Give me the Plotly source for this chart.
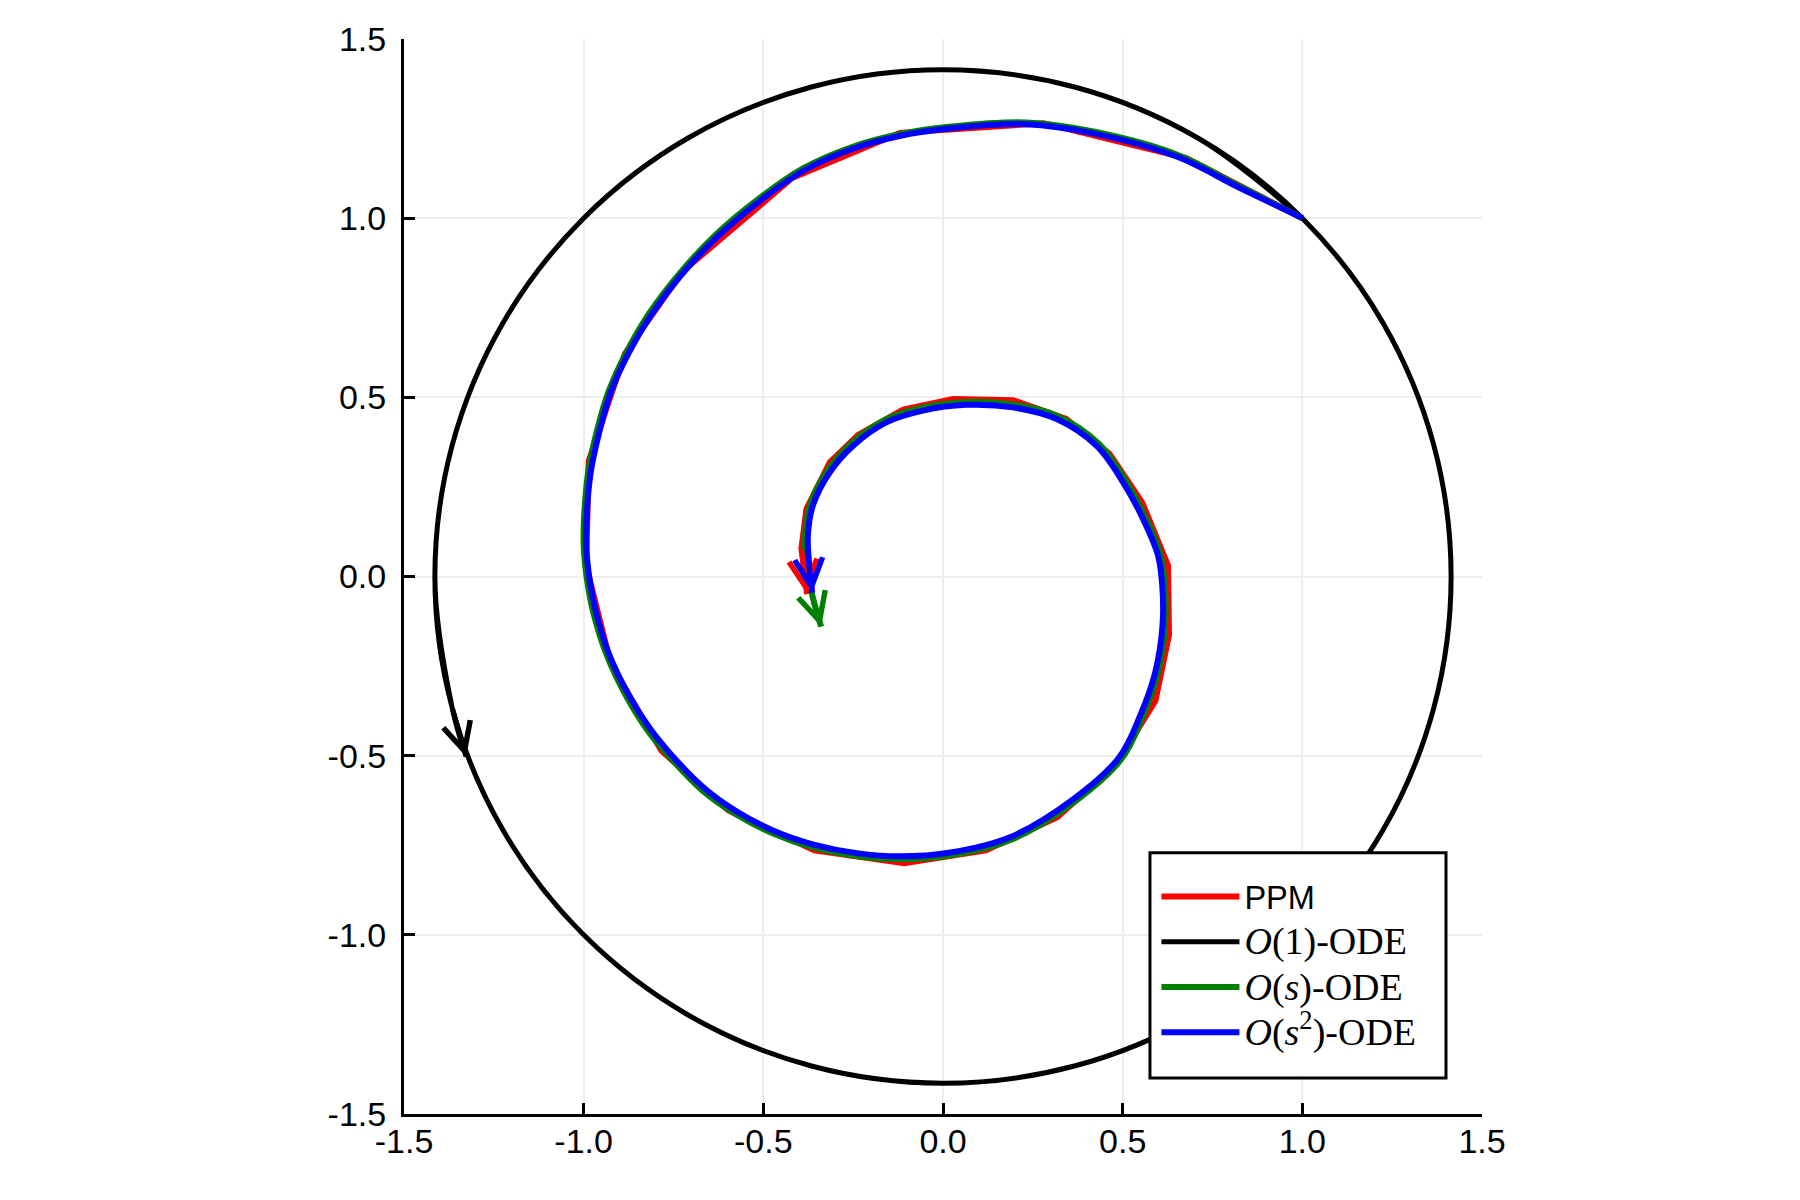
import plotly.graph_objects as go

# axis ticks
tick_vals = [-1.5, -1.0, -0.5, 0.0, 0.5, 1.0, 1.5]
tick_text = ["-1.5", "-1.0", "-0.5", "0.0", "0.5", "1.0", "1.5"]

# PPM iterates (red polygon)
ppm_x = [1.000, 0.677, 0.280, -0.120, -0.420, -0.725, -0.885, -0.986, -0.993, -0.925,
         -0.784, -0.597, -0.358, -0.108, 0.119, 0.318, 0.483, 0.591, 0.629, 0.626,
         0.555, 0.464, 0.343, 0.195, 0.028, -0.111, -0.236, -0.315, -0.380, -0.394,
         -0.378]
ppm_y = [1.000, 1.168, 1.265, 1.238, 1.112, 0.851, 0.622, 0.322, 0.030, -0.242,
         -0.486, -0.653, -0.764, -0.800, -0.764, -0.672, -0.523, -0.347, -0.163, 0.032,
         0.205, 0.342, 0.440, 0.492, 0.495, 0.466, 0.395, 0.319, 0.189, 0.078,
         -0.049]

# O(1)-ODE (circle of radius ~1.414, run past one full turn)
o1_x = [1.000, 0.707, 0.366, 0.000, -0.366, -0.707, -1.000, -1.225, -1.366, -1.414,
        -1.366, -1.225, -1.000, -0.707, -0.366, 0.000, 0.366, 0.707, 1.000, 1.225,
        1.366, 1.414, 1.366, 1.225, 1.000, 0.707, 0.366, 0.000, -0.366, -0.707,
        -1.000, -1.225, -1.366, -1.414, -1.366, -1.327]
o1_y = [1.000, 1.225, 1.366, 1.414, 1.366, 1.225, 1.000, 0.707, 0.366, 0.000,
        -0.366, -0.707, -1.000, -1.225, -1.366, -1.414, -1.366, -1.225, -1.000, -0.707,
        -0.366, 0.000, 0.366, 0.707, 1.000, 1.225, 1.366, 1.414, 1.366, 1.225,
        1.000, 0.707, 0.366, 0.000, -0.366, -0.503]

# O(s)-ODE
os_x = [1.000, 0.826, 0.652, 0.422, 0.232, 0.017, -0.119, -0.255, -0.391, -0.518,
        -0.633, -0.733, -0.818, -0.883, -0.930, -0.963, -0.987, -0.998, -1.000, -0.991,
        -0.973, -0.936, -0.881, -0.821, -0.750, -0.670, -0.579, -0.473, -0.362, -0.241,
        -0.119, 0.018, 0.191, 0.363, 0.496, 0.555, 0.597, 0.618, 0.617, 0.605,
        0.565, 0.509, 0.432, 0.318, 0.196, 0.065, -0.058, -0.162, -0.256, -0.322,
        -0.370, -0.384, -0.380, -0.362, -0.339]
os_y = [1.000, 1.089, 1.177, 1.241, 1.267, 1.255, 1.235, 1.198, 1.138, 1.050,
        0.953, 0.846, 0.734, 0.622, 0.518, 0.407, 0.294, 0.181, 0.087, -0.007,
        -0.101, -0.219, -0.335, -0.431, -0.516, -0.597, -0.662, -0.717, -0.756, -0.780,
        -0.789, -0.779, -0.734, -0.631, -0.510, -0.394, -0.273, -0.136, -0.022, 0.062,
        0.162, 0.266, 0.372, 0.448, 0.480, 0.487, 0.471, 0.437, 0.371, 0.295,
        0.200, 0.113, 0.035, -0.060, -0.140]

# O(s^2)-ODE
os2_x = [1.000, 0.825, 0.650, 0.421, 0.232, 0.017, -0.118, -0.253, -0.387, -0.514,
         -0.628, -0.728, -0.812, -0.877, -0.924, -0.956, -0.980, -0.991, -0.993, -0.984,
         -0.966, -0.930, -0.875, -0.815, -0.745, -0.665, -0.575, -0.470, -0.360, -0.240,
         -0.119, 0.017, 0.188, 0.358, 0.490, 0.548, 0.590, 0.611, 0.610, 0.598,
         0.558, 0.503, 0.427, 0.315, 0.195, 0.065, -0.056, -0.158, -0.250, -0.315,
         -0.362, -0.376, -0.373, -0.364]
os2_y = [1.000, 1.085, 1.172, 1.236, 1.262, 1.250, 1.230, 1.193, 1.133, 1.045,
         0.948, 0.842, 0.730, 0.619, 0.516, 0.405, 0.293, 0.181, 0.088, -0.005,
         -0.098, -0.215, -0.330, -0.425, -0.510, -0.590, -0.655, -0.710, -0.748, -0.772,
         -0.781, -0.771, -0.727, -0.625, -0.505, -0.390, -0.270, -0.135, -0.023, 0.060,
         0.158, 0.260, 0.365, 0.440, 0.472, 0.479, 0.463, 0.430, 0.365, 0.291,
         0.199, 0.115, 0.041, -0.045]

SERIF = "font-family:'Liberation Serif',serif;font-size:38px"
series = [
    ("PPM", ppm_x, ppm_y, "#ff0000", "linear", 6),
    (f"<span style=\"{SERIF}\"><i>O</i>(1)-ODE</span>", o1_x, o1_y, "#000000", "spline", 5),
    (f"<span style=\"{SERIF}\"><i>O</i>(<i>s</i>)-ODE</span>", os_x, os_y, "#008000", "spline", 6),
    (f"<span style=\"{SERIF}\"><i>O</i>(<i>s</i><sup>2</sup>)-ODE</span>", os2_x, os2_y, "#0000ff", "spline", 6),
]

fig = go.Figure()
arrows = []
for name, xs, ys, color, shape, lw in series:
    fig.add_trace(
        go.Scatter(
            x=xs,
            y=ys,
            mode="lines",
            name=name,
            line=dict(color=color, width=lw, shape=shape),
        )
    )
    # arrow head at the end of each trajectory
    arrows.append(
        dict(
            x=xs[-1], y=ys[-1], ax=xs[-2], ay=ys[-2],
            xref="x", yref="y", axref="x", ayref="y",
            text="", showarrow=True, arrowhead=5, arrowsize=1.1,
            arrowwidth=5, arrowcolor=color,
        )
    )

axis_style = dict(
    range=[-1.5, 1.5],
    tickvals=tick_vals,
    ticktext=tick_text,
    showline=True,
    linecolor="black",
    linewidth=3,
    ticks="inside",
    ticklen=11,
    tickwidth=2.5,
    tickcolor="black",
    showgrid=True,
    gridcolor="#eeeeee",
    gridwidth=2,
    zeroline=False,
    mirror=False,
    tickfont=dict(family="Liberation Sans", size=34, color="black"),
)

# legend frame (white box with black border, hides the circle behind it)
legend_box = dict(
    type="rect", xref="paper", yref="paper",
    x0=0.692, x1=0.9666, y0=0.0334, y1=0.243,
    fillcolor="white", line=dict(color="black", width=3), layer="above",
)

fig.update_layout(
    width=1784,
    height=1184,
    margin={"l": 396, "r": 310, "t": 28, "b": 78},
    paper_bgcolor="white",
    plot_bgcolor="white",
    font=dict(family="Liberation Sans", size=34, color="black"),
    xaxis=dict(axis_style, ticklabelstandoff=-5),
    yaxis=dict(axis_style, ticklabelstandoff=8),
    annotations=arrows,
    shapes=[legend_box],
    legend=dict(
        x=0.698, y=0.228, xanchor="left", yanchor="top",
        bgcolor="rgba(0,0,0,0)", borderwidth=0,
        itemwidth=78,
        font=dict(family="Liberation Sans", size=32.5, color="black"),
    ),
)

fig.write_html("out.html")
